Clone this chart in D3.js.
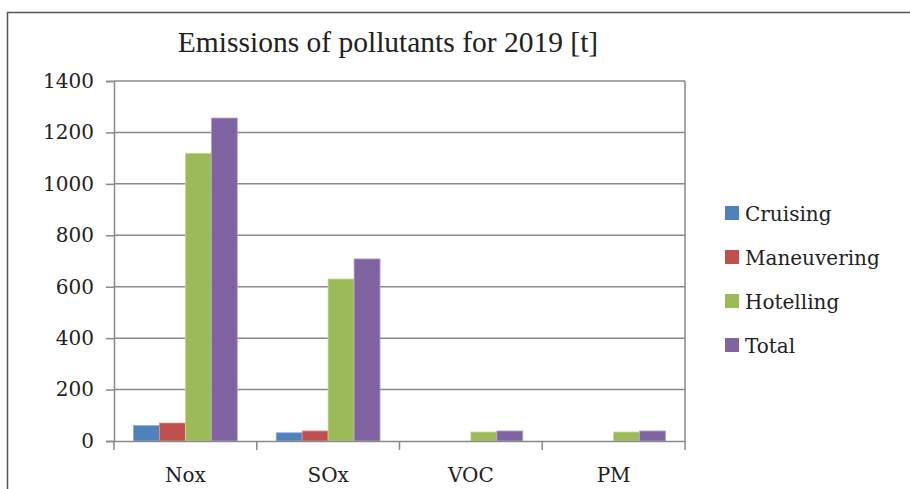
<!DOCTYPE html>
<html>
<head>
<meta charset="utf-8">
<script src="https://cdn.jsdelivr.net/npm/d3@7"></script>
<style>
  html, body { margin: 0; padding: 0; background: #fff; }
  svg { display: block; }
</style>
</head>
<body>
<svg id="chart" width="910" height="489"></svg>
<script>
const title = "Emissions of pollutants for 2019 [t]";
const categories = ["Nox", "SOx", "VOC", "PM"];
const seriesNames = ["Cruising", "Maneuvering", "Hotelling", "Total"];
const cruising = [60, 32, 0, 0];
const maneuvering = [70, 39, 0, 0];
const hotelling = [1119, 630, 35, 35];
const total = [1256, 708, 39, 39];
const yTicks = [0, 200, 400, 600, 800, 1000, 1200, 1400];
const colors = ["#4F81BD", "#C0504D", "#9BBB59", "#8064A2"];
const strokes = ["#8eaedb", "#dd9391", "#c4d99b", "#b4a3cb"];

const seriesValues = [cruising, maneuvering, hotelling, total];

const svg = d3.select("#chart");
const W = 910, H = 489;
const plot = { left: 114, right: 685, top: 81, bottom: 441 };
const labelFont = "'DejaVu Serif', serif";
const labelSize = "20px";

// outer chart border (top and left visible)
svg.append("line").attr("x1", 7).attr("x2", W).attr("y1", 12.5).attr("y2", 12.5)
  .attr("stroke", "#555").attr("stroke-width", 1.5);
svg.append("line").attr("x1", 7.5).attr("x2", 7.5).attr("y1", 12).attr("y2", H)
  .attr("stroke", "#555").attr("stroke-width", 1.5);

const x0 = d3.scaleBand().domain(categories).range([plot.left, plot.right]).paddingInner(0).paddingOuter(0);
const x1 = d3.scaleBand().domain(seriesNames).range([0, x0.bandwidth()]).paddingInner(0).paddingOuter(0.75);
const y = d3.scaleLinear().domain([0, 1400]).range([plot.bottom, plot.top]);

// gridlines
svg.append("g").selectAll("line").data(yTicks.filter(d => d > 0)).join("line")
  .attr("x1", plot.left).attr("x2", plot.right)
  .attr("y1", d => y(d)).attr("y2", d => y(d))
  .attr("stroke", "#8a8a8a").attr("stroke-width", 1.5);

// right border of plot area
svg.append("line").attr("x1", plot.right).attr("x2", plot.right)
  .attr("y1", plot.top).attr("y2", plot.bottom)
  .attr("stroke", "#8a8a8a").attr("stroke-width", 1.5);

// bars
const groups = svg.append("g").selectAll("g").data(categories).join("g")
  .attr("transform", d => `translate(${x0(d)},0)`);
groups.selectAll("rect")
  .data((c, ci) => seriesNames.map((s, si) => ({ s, si, v: seriesValues[si][ci] })))
  .join("rect")
  .attr("x", d => x1(d.s))
  .attr("width", x1.bandwidth())
  .attr("y", d => y(d.v))
  .attr("height", d => y(0) - y(d.v))
  .attr("fill", d => colors[d.si])
  .attr("stroke", d => d.v > 0 ? strokes[d.si] : "none")
  .attr("stroke-width", 0.8);

// y axis
const yAxis = d3.axisLeft(y).tickValues(yTicks).tickSize(8).tickPadding(12).tickFormat(d3.format("d"));
const gy = svg.append("g").attr("transform", `translate(${plot.left},0)`).call(yAxis);
gy.select(".domain").attr("stroke", "#8a8a8a").attr("stroke-width", 1.5);
gy.selectAll(".tick line").attr("stroke", "#8a8a8a").attr("stroke-width", 1.5);
gy.selectAll(".tick text").style("font-size", labelSize).style("font-family", labelFont).attr("fill", "#222");

// x axis
const xAxis = d3.axisBottom(x0).tickSize(0).tickPadding(27);
const gx = svg.append("g").attr("transform", `translate(0,${plot.bottom})`).call(xAxis);
gx.select(".domain").attr("stroke", "#8a8a8a").attr("stroke-width", 1.5);
gx.selectAll(".tick text").style("font-size", labelSize).style("font-family", labelFont).attr("fill", "#222");
// category separator ticks
const sepVals = categories.map(c => x0(c)).concat([x0(categories[categories.length - 1]) + x0.bandwidth()]);
gx.append("g").selectAll("line").data(sepVals).join("line")
  .attr("x1", d => d).attr("x2", d => d).attr("y1", 0).attr("y2", 9)
  .attr("stroke", "#8a8a8a").attr("stroke-width", 1.5);

// title
svg.append("text").attr("x", 388).attr("y", 52).attr("text-anchor", "middle")
  .style("font-family", "'Liberation Serif', serif").style("font-size", "29.5px")
  .attr("fill", "#222").text(title);

// legend
const legend = svg.append("g").selectAll("g").data(seriesNames).join("g")
  .attr("transform", (d, i) => `translate(725,${206 + i * 44})`);
legend.append("rect").attr("width", 14).attr("height", 14).attr("fill", (d, i) => colors[i]);
legend.append("text").attr("x", 20).attr("y", 14.5)
  .style("font-size", labelSize).style("font-family", labelFont)
  .attr("fill", "#222").text(d => d);
</script>
</body>
</html>
